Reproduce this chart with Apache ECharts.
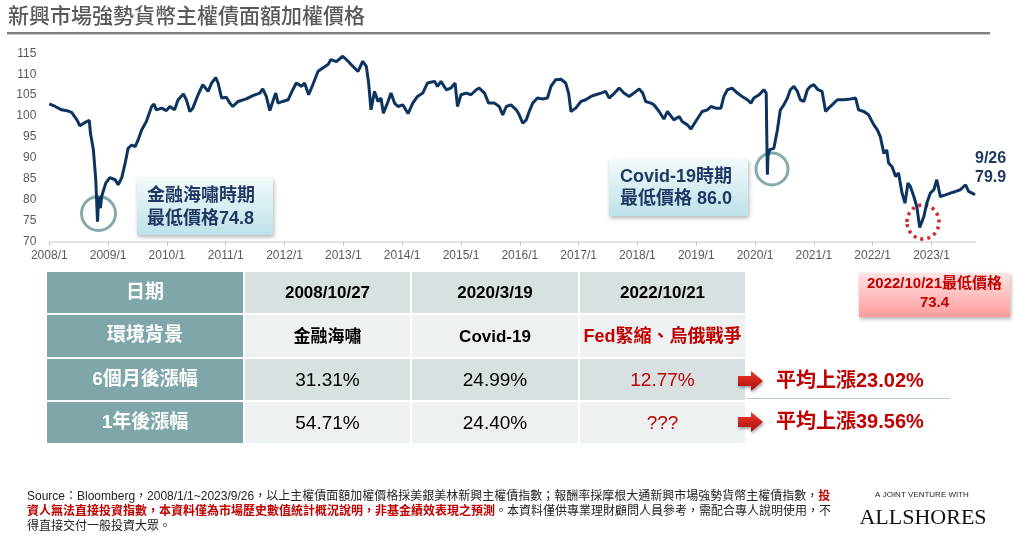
<!DOCTYPE html>
<html>
<head>
<meta charset="utf-8">
<script src="https://cdn.jsdelivr.net/npm/echarts@6/dist/echarts.min.js"></script>
<style>
  html, body { margin: 0; padding: 0; background: #fff; }
  #main { width: 1014px; height: 539px; }
</style>
</head>
<body>
<div id="main"></div>
<script>
// 價格走勢 (年份以小數表示)
var dates = [
  2008.00, 2008.10, 2008.21, 2008.30, 2008.38, 2008.47, 2008.52, 2008.61, 2008.68, 2008.70,
  2008.75, 2008.79, 2008.82, 2008.84, 2008.87, 2008.89, 2008.96, 2009.03, 2009.12, 2009.17,
  2009.23, 2009.29, 2009.34, 2009.40, 2009.46, 2009.51, 2009.57, 2009.65, 2009.74, 2009.78,
  2009.82, 2009.91, 2009.99, 2010.05, 2010.13, 2010.19, 2010.28, 2010.33, 2010.39, 2010.44,
  2010.53, 2010.61, 2010.70, 2010.76, 2010.83, 2010.87, 2010.93, 2011.01, 2011.07, 2011.12,
  2011.21, 2011.35, 2011.46, 2011.58, 2011.63, 2011.69, 2011.75, 2011.80, 2011.85, 2011.89,
  2011.97, 2012.06, 2012.14, 2012.20, 2012.29, 2012.34, 2012.41, 2012.48, 2012.57, 2012.65,
  2012.74, 2012.79, 2012.88, 2012.99, 2013.08, 2013.16, 2013.25, 2013.33, 2013.39, 2013.43,
  2013.47, 2013.53, 2013.59, 2013.64, 2013.68, 2013.76, 2013.81, 2013.87, 2013.93, 2014.01,
  2014.10, 2014.18, 2014.26, 2014.35, 2014.43, 2014.55, 2014.60, 2014.66, 2014.75, 2014.83,
  2014.90, 2014.94, 2015.00, 2015.09, 2015.17, 2015.26, 2015.31, 2015.40, 2015.47, 2015.57,
  2015.65, 2015.71, 2015.77, 2015.85, 2015.94, 2015.99, 2016.05, 2016.11, 2016.16, 2016.22,
  2016.30, 2016.39, 2016.47, 2016.53, 2016.61, 2016.70, 2016.78, 2016.83, 2016.87, 2016.95,
  2017.04, 2017.12, 2017.21, 2017.29, 2017.38, 2017.46, 2017.52, 2017.61, 2017.69, 2017.77,
  2017.86, 2017.94, 2018.03, 2018.09, 2018.14, 2018.23, 2018.28, 2018.37, 2018.45, 2018.51,
  2018.54, 2018.62, 2018.71, 2018.76, 2018.85, 2018.91, 2018.99, 2019.10, 2019.19, 2019.25,
  2019.33, 2019.42, 2019.47, 2019.53, 2019.61, 2019.70, 2019.78, 2019.87, 2019.93, 2019.98,
  2020.07, 2020.15, 2020.19, 2020.20, 2020.21, 2020.22, 2020.25, 2020.32, 2020.38, 2020.43,
  2020.49, 2020.55, 2020.60, 2020.66, 2020.72, 2020.77, 2020.83, 2020.89, 2020.94, 2021.00,
  2021.07, 2021.14, 2021.20, 2021.25, 2021.31, 2021.40, 2021.51, 2021.62, 2021.71, 2021.76,
  2021.85, 2021.93, 2022.02, 2022.08, 2022.13, 2022.19, 2022.24, 2022.27, 2022.33, 2022.39,
  2022.44, 2022.50, 2022.55, 2022.60, 2022.64, 2022.70, 2022.75, 2022.80, 2022.87, 2022.92,
  2022.98, 2023.04, 2023.09, 2023.15, 2023.24, 2023.32, 2023.41, 2023.49, 2023.58, 2023.63,
  2023.69, 2023.74
];
var prices = [
  102.9, 102.3, 101.5, 101.3, 100.9, 99.1, 97.7, 98.5, 99.0, 95.9,
  91.9, 84.8, 74.8, 80.8, 78.0, 80.8, 84.0, 85.3, 84.8, 83.6,
  85.2, 88.8, 92.3, 93.1, 92.7, 94.3, 96.7, 98.7, 102.3, 102.9,
  101.5, 101.9, 101.3, 102.3, 101.5, 103.9, 105.3, 103.9, 101.1, 101.9,
  105.1, 107.5, 105.9, 107.9, 109.2, 107.9, 104.3, 104.5, 103.1, 102.3,
  103.5, 104.1, 104.9, 105.5, 106.5, 104.7, 101.3, 103.5, 105.5, 103.1,
  103.5, 103.9, 106.3, 107.9, 107.1, 107.9, 105.1, 107.5, 110.7, 111.5,
  112.3, 113.5, 113.0, 114.3, 113.1, 111.9, 110.7, 113.1, 111.9, 107.9,
  101.5, 105.9, 103.5, 104.3, 100.7, 103.5, 105.5, 103.1, 102.3, 102.7,
  100.6, 103.1, 104.7, 105.5, 107.9, 108.3, 107.1, 108.3, 106.3, 106.7,
  107.9, 102.3, 105.1, 105.5, 105.1, 106.3, 106.7, 105.5, 103.1, 103.1,
  102.3, 100.3, 102.3, 102.7, 101.5, 100.3, 98.3, 99.1, 101.1, 103.1,
  104.3, 104.1, 104.3, 107.1, 108.7, 108.8, 107.9, 105.5, 101.1, 101.9,
  103.5, 103.9, 104.7, 105.1, 105.5, 105.9, 104.3, 105.5, 106.7, 105.5,
  104.7, 105.5, 106.5, 105.5, 103.5, 103.1, 102.7, 101.1, 99.3, 101.1,
  100.7, 99.1, 99.9, 98.7, 97.9, 96.9, 98.7, 101.1, 101.5, 102.3,
  101.9, 101.9, 104.7, 106.3, 106.7, 105.5, 104.7, 103.9, 103.1, 104.3,
  105.1, 106.3, 105.5, 95.0, 86.0, 90.5, 92.0, 92.3, 96.7, 101.5,
  102.7, 104.3, 106.3, 107.1, 105.9, 103.9, 103.5, 106.3, 107.1, 107.5,
  106.3, 105.9, 101.1, 101.9, 102.7, 103.9, 103.9, 104.1, 104.3, 101.5,
  101.1, 100.3, 97.9, 96.7, 95.1, 91.1, 91.9, 88.8, 87.9, 85.6,
  86.4, 81.6, 79.2, 84.0, 83.2, 80.8, 78.4, 73.4, 76.0, 79.2,
  81.6, 82.4, 84.8, 80.8, 81.2, 81.6, 82.0, 82.4, 83.6, 82.0,
  81.6, 81.2
];
var yearTicks = [2008, 2009, 2010, 2011, 2012, 2013, 2014, 2015, 2016, 2017, 2018, 2019, 2020, 2021, 2022, 2023];

// 表格內容
var rowLabels = ['日期', '環境背景', '6個月後漲幅', '1年後漲幅'];
var eventDates = ['2008/10/27', '2020/3/19', '2022/10/21'];
var eventContexts = ['金融海嘯', 'Covid-19', 'Fed緊縮、烏俄戰爭'];
var sixMonthGain = ['31.31%', '24.99%', '12.77%'];
var oneYearGain = ['54.71%', '24.40%', '???'];
var avgGain = ['平均上漲23.02%', '平均上漲39.56%'];

var FONT = '"Liberation Sans", "Noto Sans CJK TC", sans-serif';
var NAVY = '#0d3461';
var RED = '#c00000';

var chart = echarts.init(document.getElementById('main'));

var lineData = dates.map(function (d, i) { return [d, prices[i]]; });

// ---- 表格 ----
var colX = [[47, 243], [245, 410], [412, 578], [580, 745]];
var rowY = [[272, 313], [315, 357], [359, 400], [402, 443]];
var rowBg = ['#d8e0e2', '#edf1f2', '#d8e0e2', '#edf1f2'];
var tableRows = [eventDates, eventContexts, sixMonthGain, oneYearGain];

var g = [];

// 標題
g.push({ type: 'text', left: 8, top: 7, style: { text: '新興市場強勢貨幣主權債面額加權價格', font: '500 21px ' + FONT, fill: '#595959' } });
g.push({ type: 'rect', shape: { x: 7, y: 32, width: 983, height: 2 }, style: { fill: '#7f7f7f' } });
g.push({ type: 'rect', shape: { x: 7, y: 34, width: 983, height: 1 }, style: { fill: '#c8c8c8' } });

for (var r = 0; r < 4; r++) {
  var y0 = rowY[r][0], y1 = rowY[r][1];
  g.push({ type: 'rect', shape: { x: colX[0][0], y: y0, width: colX[0][1] - colX[0][0], height: y1 - y0 }, style: { fill: '#7fa7aa' } });
  g.push({ type: 'text', style: { text: rowLabels[r], x: (colX[0][0] + colX[0][1]) / 2, y: (y0 + y1) / 2, align: 'center', verticalAlign: 'middle', font: 'bold 19px ' + FONT, fill: '#fff' } });
  for (var c = 0; c < 3; c++) {
    var cx0 = colX[c + 1][0], cx1 = colX[c + 1][1];
    g.push({ type: 'rect', shape: { x: cx0, y: y0, width: cx1 - cx0, height: y1 - y0 }, style: { fill: rowBg[r] } });
    var isRed = (c === 2 && r > 0);
    var font = r < 2 ? 'bold 17px ' : '19px ';
    if (c === 2 && r === 1) font = 'bold 18px ';
    g.push({ type: 'text', style: { text: tableRows[r][c], x: (cx0 + cx1) / 2, y: (y0 + y1) / 2 + 1, align: 'center', verticalAlign: 'middle', font: font + FONT, fill: isRed ? RED : '#000' } });
  }
}

// 平均上漲 + 箭頭
var arrowY = [381, 422];
for (var a = 0; a < 2; a++) {
  var ay = arrowY[a];
  g.push({
    type: 'polygon',
    shape: { points: [[738, ay - 5], [751, ay - 5], [751, ay - 10], [763, ay], [751, ay + 10], [751, ay + 5], [738, ay + 5]] },
    style: {
      fill: new echarts.graphic.LinearGradient(0, 0, 0, 1, [{ offset: 0, color: '#f03a2a' }, { offset: 1, color: '#a80c0c' }]),
      shadowBlur: 3, shadowColor: 'rgba(0,0,0,0.35)', shadowOffsetX: 1, shadowOffsetY: 2
    }
  });
  g.push({ type: 'text', style: { text: avgGain[a], x: 776, y: ay, verticalAlign: 'middle', font: 'bold 20px ' + FONT, fill: RED } });
}
g.push({ type: 'rect', shape: { x: 746, y: 398, width: 204, height: 1 }, style: { fill: '#b7c9cc' } });

// 圖內標註
g.push({ type: 'circle', shape: { cx: 98.5, cy: 213.5, r: 17 }, style: { fill: null, stroke: '#84aaa9', lineWidth: 3 } });
g.push({ type: 'circle', shape: { cx: 772, cy: 169, r: 16 }, style: { fill: null, stroke: '#84aaa9', lineWidth: 3 } });
g.push({ type: 'ellipse', shape: { cx: 923, cy: 222, rx: 16, ry: 17 }, style: { fill: null, stroke: '#d42a2a', lineWidth: 3.5, lineDash: [3, 4] } });

var boxFill = function () {
  return new echarts.graphic.LinearGradient(0, 0, 0, 1, [{ offset: 0, color: '#f2f9fa' }, { offset: 1, color: '#bde2e9' }]);
};
g.push({ type: 'rect', shape: { x: 137, y: 178, width: 136, height: 57 }, style: { fill: boxFill(), shadowBlur: 4, shadowColor: 'rgba(0,0,0,0.3)', shadowOffsetX: 1, shadowOffsetY: 2 } });
g.push({ type: 'text', style: { text: '金融海嘯時期', x: 147, y: 196, verticalAlign: 'middle', font: 'bold 18px ' + FONT, fill: '#1f3864' } });
g.push({ type: 'text', style: { text: '最低價格74.8', x: 147, y: 219, verticalAlign: 'middle', font: 'bold 18px ' + FONT, fill: '#1f3864' } });

g.push({ type: 'rect', shape: { x: 609, y: 159, width: 139, height: 57 }, style: { fill: boxFill(), shadowBlur: 4, shadowColor: 'rgba(0,0,0,0.3)', shadowOffsetX: 1, shadowOffsetY: 2 } });
g.push({ type: 'text', style: { text: 'Covid-19時期', x: 620, y: 177, verticalAlign: 'middle', font: 'bold 18px ' + FONT, fill: '#1f3864' } });
g.push({ type: 'text', style: { text: '最低價格 86.0', x: 620, y: 199, verticalAlign: 'middle', font: 'bold 18px ' + FONT, fill: '#1f3864' } });

g.push({ type: 'text', style: { text: '9/26', x: 975, y: 159, verticalAlign: 'middle', font: 'bold 16px ' + FONT, fill: '#1f3864' } });
g.push({ type: 'text', style: { text: '79.9', x: 975, y: 178, verticalAlign: 'middle', font: 'bold 16px ' + FONT, fill: '#1f3864' } });

g.push({
  type: 'rect', shape: { x: 859, y: 273, width: 151, height: 44 },
  style: {
    fill: new echarts.graphic.LinearGradient(0, 0, 0, 1, [{ offset: 0, color: '#ffe3e3' }, { offset: 1, color: '#ff9c9c' }]),
    shadowBlur: 4, shadowColor: 'rgba(0,0,0,0.3)', shadowOffsetX: 1, shadowOffsetY: 2
  }
});
g.push({ type: 'text', style: { text: '2022/10/21最低價格', x: 934.5, y: 284, align: 'center', verticalAlign: 'middle', font: 'bold 15px ' + FONT, fill: RED } });
g.push({ type: 'text', style: { text: '73.4', x: 934.5, y: 303, align: 'center', verticalAlign: 'middle', font: 'bold 15px ' + FONT, fill: RED } });

// 附註
var noteFont = '12px ' + FONT;
var rich = { r: { fill: RED, fontWeight: 'bold', fontSize: 12, fontFamily: FONT } };
g.push({ type: 'text', style: { text: 'Source：Bloomberg，2008/1/1~2023/9/26，以上主權債面額加權價格採美銀美林新興主權債指數；報酬率採摩根大通新興市場強勢貨幣主權債指數，{r|投}', x: 27, y: 497, verticalAlign: 'middle', font: noteFont, fill: '#222', rich: rich } });
g.push({ type: 'text', style: { text: '{r|資人無法直接投資指數，本資料僅為市場歷史數值統計概況說明，非基金績效表現之預測}。本資料僅供專業理財顧問人員參考，需配合專人說明使用，不', x: 27, y: 512, verticalAlign: 'middle', font: noteFont, fill: '#222', rich: rich } });
g.push({ type: 'text', style: { text: '得直接交付一般投資大眾。', x: 27, y: 527, verticalAlign: 'middle', font: noteFont, fill: '#222' } });

g.push({ type: 'text', style: { text: 'A JOINT VENTURE WITH', x: 922, y: 495, align: 'center', verticalAlign: 'middle', font: '8px ' + FONT, fill: '#222' } });
g.push({ type: 'text', style: { text: 'ALLSHORES', x: 923, y: 518, align: 'center', verticalAlign: 'middle', font: '22px "Liberation Serif", serif', fill: '#111' } });

chart.setOption({
  animation: false,
  backgroundColor: '#fff',
  grid: { left: 49.3, right: 39, top: 53.3, height: 188.4, containLabel: false },
  xAxis: {
    type: 'value',
    min: 2008,
    max: dates[dates.length - 1],
    splitLine: { show: false },
    axisLine: { lineStyle: { color: '#d9d9d9', width: 1.5 } },
    axisTick: { show: true, length: 4, customValues: yearTicks, lineStyle: { color: '#c8c8c8' } },
    axisLabel: {
      customValues: yearTicks,
      margin: 8,
      color: '#595959',
      fontSize: 12,
      fontFamily: FONT,
      formatter: function (v) { return v + '/1'; }
    }
  },
  yAxis: {
    type: 'value',
    min: 70,
    max: 115,
    interval: 5,
    splitLine: { show: false },
    axisLine: { show: false },
    axisTick: { show: false },
    axisLabel: { color: '#595959', fontSize: 12, fontFamily: FONT, margin: 13 }
  },
  series: [{
    type: 'line',
    data: lineData,
    showSymbol: false,
    lineStyle: { color: NAVY, width: 3 },
    z: 2
  }],
  graphic: g
});
</script>
</body>
</html>
